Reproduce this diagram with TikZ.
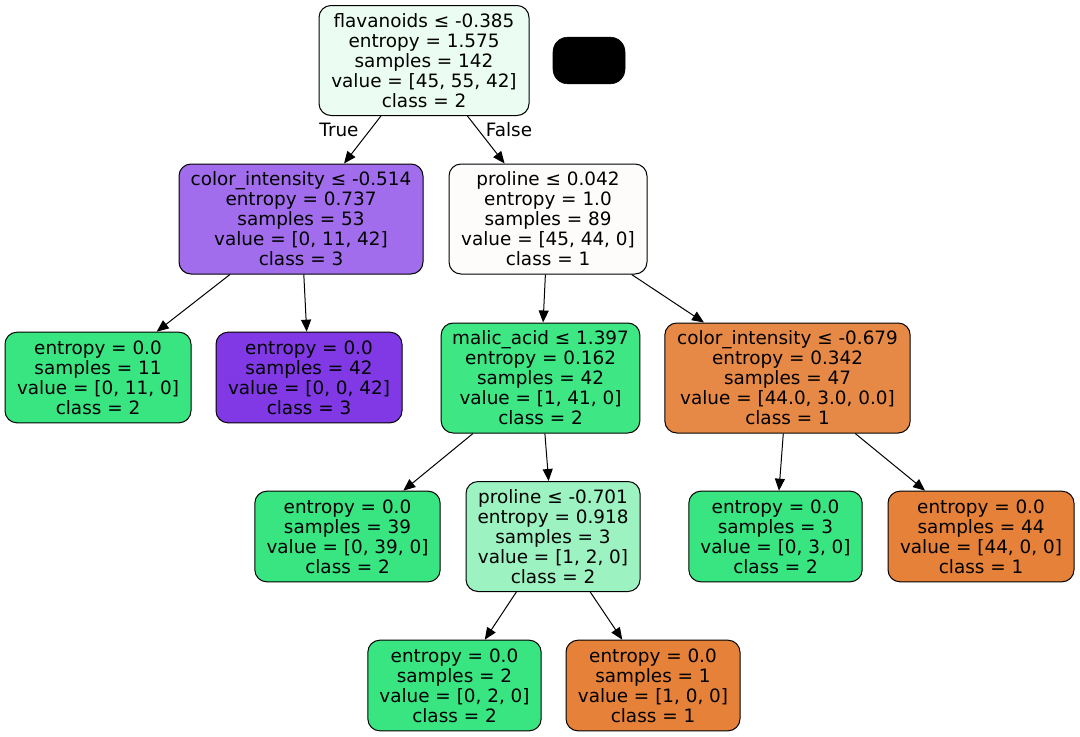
\documentclass[tikz,border=0pt]{standalone}
\usepackage{fontspec}
\setmainfont{DejaVu Sans}
\usetikzlibrary{arrows.meta}
\definecolor{cRoot}{HTML}{EBFCF2}
\definecolor{cPurpA}{HTML}{A26DEC}
\definecolor{cWhiteO}{HTML}{FEFCFA}
\definecolor{cGreen}{HTML}{39E581}
\definecolor{cGreenA}{HTML}{3EE684}
\definecolor{cPurple}{HTML}{8139E5}
\definecolor{cOrangeA}{HTML}{E78946}
\definecolor{cGreenL}{HTML}{9CF2C0}
\definecolor{cOrange}{HTML}{E58139}
\tikzset{
  tnode/.style={draw=black, line width=0.75pt, rounded corners=9pt, inner sep=0pt,
    align=center, font=\fontsize{13.8}{15}\selectfont},
  inner/.style={tnode, minimum height=82.5pt},
  leaf/.style={tnode, minimum height=68pt},
  edge/.style={line width=0.75pt, -{Triangle[length=9pt,width=7.5pt]}},
  elabel/.style={font=\fontsize{13.8}{15}\selectfont, inner sep=0pt}
}
\begin{document}
\begin{tikzpicture}[x=0.75pt,y=-0.75pt]
\useasboundingbox (0,0) rectangle (1080,736);
\node[inner, fill=cRoot, minimum width=157.5pt] (n0) at (424,60.5)
  {flavanoids ≤ -0.385\\entropy = 1.575\\samples = 142\\value = [45, 55, 42]\\class = 2};
\node[draw=black, fill=black, rounded corners=11pt, minimum width=54pt, minimum height=35pt, inner sep=0pt] (blk) at (589,60.5) {};
\node[inner, fill=cPurpA, minimum width=183pt] (n1) at (301,219)
  {color\_intensity ≤ -0.514\\entropy = 0.737\\samples = 53\\value = [0, 11, 42]\\class = 3};
\node[inner, fill=cWhiteO, minimum width=148.5pt] (n4) at (548,219)
  {proline ≤ 0.042\\entropy = 1.0\\samples = 89\\value = [45, 44, 0]\\class = 1};
\node[leaf, fill=cGreen, minimum width=139.5pt] (n2) at (98,377.5)
  {entropy = 0.0\\samples = 11\\value = [0, 11, 0]\\class = 2};
\node[leaf, fill=cPurple, minimum width=139.5pt] (n3) at (309,377.5)
  {entropy = 0.0\\samples = 42\\value = [0, 0, 42]\\class = 3};
\node[inner, fill=cGreenA, minimum width=149pt] (n5) at (540.5,378)
  {malic\_acid ≤ 1.397\\entropy = 0.162\\samples = 42\\value = [1, 41, 0]\\class = 2};
\node[inner, fill=cOrangeA, minimum width=184pt] (n10) at (787.5,378)
  {color\_intensity ≤ -0.679\\entropy = 0.342\\samples = 47\\value = [44.0, 3.0, 0.0]\\class = 1};
\node[leaf, fill=cGreen, minimum width=139pt] (n6) at (347.5,536.5)
  {entropy = 0.0\\samples = 39\\value = [0, 39, 0]\\class = 2};
\node[inner, fill=cGreenL, minimum width=130.5pt] (n7) at (553,536.5)
  {proline ≤ -0.701\\entropy = 0.918\\samples = 3\\value = [1, 2, 0]\\class = 2};
\node[leaf, fill=cGreen, minimum width=130pt] (n11) at (775.5,536.5)
  {entropy = 0.0\\samples = 3\\value = [0, 3, 0]\\class = 2};
\node[leaf, fill=cOrange, minimum width=139.5pt] (n12) at (981,536.5)
  {entropy = 0.0\\samples = 44\\value = [44, 0, 0]\\class = 1};
\node[leaf, fill=cGreen, minimum width=130pt] (n8) at (454.5,685.5)
  {entropy = 0.0\\samples = 2\\value = [0, 2, 0]\\class = 2};
\node[leaf, fill=cOrange, minimum width=130.5pt] (n9) at (653,685.5)
  {entropy = 0.0\\samples = 1\\value = [1, 0, 0]\\class = 1};
\draw[edge] (n0) -- (n1);
\draw[edge] (n0) -- (n4);
\draw[edge] (n1) -- (n2);
\draw[edge] (n1) -- (n3);
\draw[edge] (n4) -- (n5);
\draw[edge] (n4) -- (n10);
\draw[edge] (n5) -- (n6);
\draw[edge] (n5) -- (n7);
\draw[edge] (n7) -- (n8);
\draw[edge] (n7) -- (n9);
\draw[edge] (n10) -- (n11);
\draw[edge] (n10) -- (n12);
\node[elabel] (lt) at (339,130) {True};
\node[elabel] (lf) at (509,130) {False};
\end{tikzpicture}
\end{document}
